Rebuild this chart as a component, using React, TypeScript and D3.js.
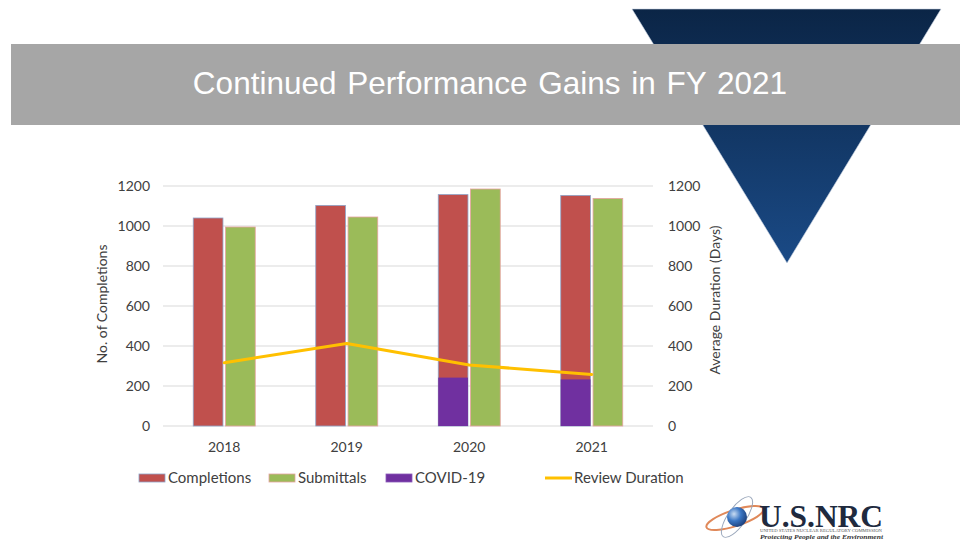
import React from 'react';
import * as d3 from 'd3';

// chart values
const years = ['2018', '2019', '2020', '2021'];
const completions = [1040, 1103, 1157, 1153];
const submittals = [995, 1045, 1185, 1138];
const covid = [0, 0, 242, 233];
const reviewDuration = [316, 413, 305, 258];
const yTicks = [0, 200, 400, 600, 800, 1000, 1200];

const seriesNames = ['Completions', 'Submittals'];
const colors = {
  Completions: '#c0504d',
  Submittals: '#9bbb59',
  'COVID-19': '#7030a0',
  'Review Duration': '#ffc000',
};

const FONT = 'Lato, "Open Sans", sans-serif';
const TXT = '#404040';

const App = () => {
  // plot area
  const left = 163, right = 653, top = 186, bottom = 426;

  const x0 = d3.scaleBand().domain(years).range([left, right]);
  const x1 = d3.scaleBand().domain(seriesNames).range([-31, 31]).paddingInner(0.08);
  const y = d3.scaleLinear().domain([0, 1200]).range([bottom, top]);
  const yRight = d3.scaleLinear().domain([0, 1200]).range([bottom, top]);
  const cx = (yr) => x0(yr) + x0.bandwidth() / 2;

  const line = d3.line()
    .x((d, i) => cx(years[i]))
    .y((d) => yRight(d));

  const legendItems = [
    { name: 'Completions', x: 139, kind: 'rect', stroke: '#8ea4c8' },
    { name: 'Submittals', x: 269, kind: 'rect', stroke: '#e6a3a0' },
    { name: 'COVID-19', x: 386, kind: 'rect', stroke: '#8a5ab8' },
    { name: 'Review Duration', x: 545, kind: 'line' },
  ];

  return (
    <svg width={960} height={540} style={{ display: 'block', position: 'absolute', left: 0, top: 0 }}>
      <defs>
        <linearGradient id="tri" x1="0" y1="0" x2="0" y2="1">
          <stop offset="0%" stopColor="#0b2546" />
          <stop offset="100%" stopColor="#1a4a86" />
        </linearGradient>
        <radialGradient id="globe" cx="0.35" cy="0.35" r="0.7">
          <stop offset="0%" stopColor="#c9dcf2" />
          <stop offset="50%" stopColor="#3a76c4" />
          <stop offset="100%" stopColor="#1c3f7a" />
        </radialGradient>
      </defs>
      <rect width={960} height={540} fill="#ffffff" />

      {/* decorative triangle + title banner */}
      <path d="M632,9 L941,9 L787,263 Z" fill="url(#tri)" stroke="#c8d2e0" strokeWidth={0.6} />
      <rect x={11} y={44} width={949} height={81} fill="#a6a6a6" />
      <text x={490} y={94} textAnchor="middle" fill="#ffffff" wordSpacing={2}
        style={{ font: '31.5px "Liberation Sans", Arial, sans-serif' }}>
        Continued Performance Gains in FY 2021
      </text>

      {/* gridlines */}
      {yTicks.map((t) => (
        <line key={t} x1={left} x2={right} y1={y(t)} y2={y(t)} stroke="#d9d9d9" strokeWidth={1} />
      ))}

      {/* bars */}
      {years.map((yr, i) => (
        <g key={yr} transform={`translate(${cx(yr)},0)`}>
          <rect x={x1('Completions')} y={y(completions[i])} width={x1.bandwidth()}
            height={y(0) - y(completions[i])} fill={colors.Completions} stroke="#8ea4c8" strokeWidth={0.8} />
          {covid[i] > 0 && (
            <rect x={x1('Completions')} y={y(covid[i])} width={x1.bandwidth()}
              height={y(0) - y(covid[i])} fill={colors['COVID-19']} />
          )}
          <rect x={x1('Submittals')} y={y(submittals[i])} width={x1.bandwidth()}
            height={y(0) - y(submittals[i])} fill={colors.Submittals} stroke="#e6a3a0" strokeWidth={0.8} />
        </g>
      ))}

      {/* review duration line */}
      <path d={line(reviewDuration)} fill="none" stroke={colors['Review Duration']} strokeWidth={3}
        strokeLinejoin="round" strokeLinecap="round" />

      {/* axes labels */}
      <g style={{ font: `14px ${FONT}` }} fill={TXT}>
        {yTicks.map((t) => (
          <text key={'l' + t} x={150} y={y(t)} dy="0.35em" textAnchor="end">{t}</text>
        ))}
        {yTicks.map((t) => (
          <text key={'r' + t} x={668} y={yRight(t)} dy="0.35em">{t}</text>
        ))}
        {years.map((yr) => (
          <text key={yr} x={cx(yr)} y={447} dy="0.35em" textAnchor="middle">{yr}</text>
        ))}
        <text transform="translate(107,304) rotate(-90)" textAnchor="middle">No. of Completions</text>
        <text transform="translate(720,300) rotate(-90)" textAnchor="middle">Average Duration (Days)</text>
      </g>

      {/* legend */}
      <g style={{ font: `15px ${FONT}` }} fill={TXT}>
        {legendItems.map((d) => (
          <g key={d.name}>
            {d.kind === 'rect' ? (
              <rect x={d.x} y={474} width={26} height={8} fill={colors[d.name]} stroke={d.stroke} strokeWidth={0.8} />
            ) : (
              <line x1={d.x} x2={d.x + 27} y1={478} y2={478} stroke={colors[d.name]} strokeWidth={3} />
            )}
            <text x={d.x + 29} y={478} dy="0.35em">{d.name}</text>
          </g>
        ))}
      </g>

      {/* U.S.NRC logo */}
      <g>
        <ellipse cx={735} cy={518} rx={30} ry={8} fill="none" stroke="#e0895a" strokeWidth={2}
          transform="rotate(-18 735 518)" />
        <ellipse cx={737} cy={517} rx={9} ry={24} fill="none" stroke="#9aa7bb" strokeWidth={1}
          transform="rotate(35 737 517)" />
        <circle cx={737} cy={517} r={10} fill="url(#globe)" />
        <text x={759} y={527} textLength={124} lengthAdjust="spacingAndGlyphs" fill="#202a3e"
          style={{ font: 'bold 31px "Liberation Serif", "DejaVu Serif", serif' }}>U.S.NRC</text>
        <text x={760} y={532} textLength={122} lengthAdjust="spacingAndGlyphs" fill="#555"
          style={{ font: '3px "Liberation Serif", serif' }}>UNITED STATES NUCLEAR REGULATORY COMMISSION</text>
        <text x={760} y={539} textLength={123} lengthAdjust="spacingAndGlyphs" fill="#333"
          style={{ font: 'italic bold 7px "Liberation Serif", serif' }}>Protecting People and the Environment</text>
      </g>
    </svg>
  );
};

export default App;
